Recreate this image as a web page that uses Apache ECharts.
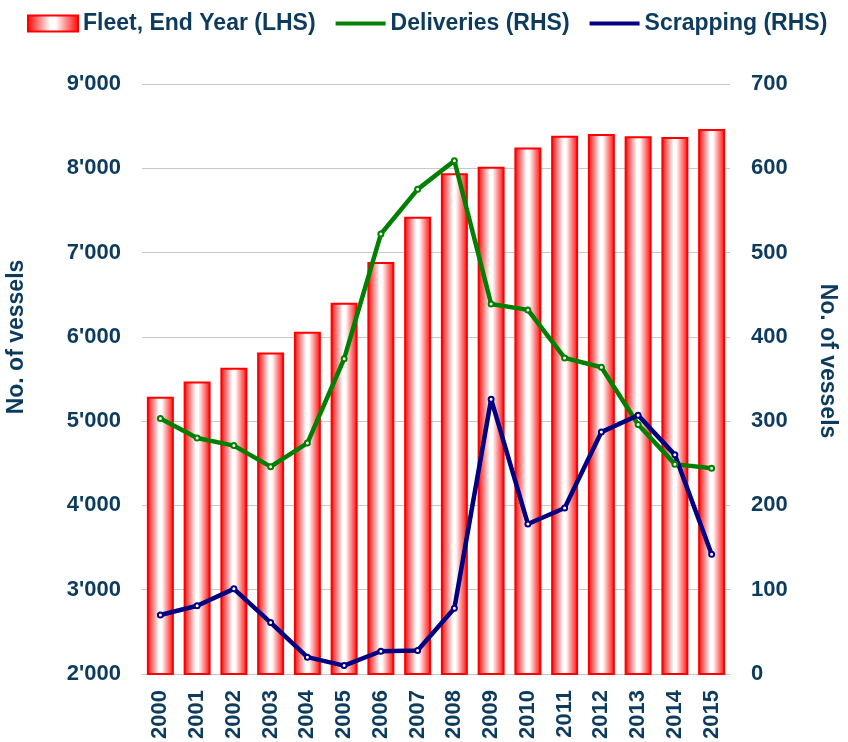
<!DOCTYPE html>
<html>
<head>
<meta charset="utf-8">
<script src="https://cdn.jsdelivr.net/npm/echarts@6/dist/echarts.min.js"></script>
<style>
  html, body { margin: 0; padding: 0; background: #fff; }
  #chart { width: 848px; height: 742px; }
</style>
</head>
<body>
<div id="chart"></div>
<script>
var years = ['2000','2001','2002','2003','2004','2005','2006','2007','2008','2009','2010','2011','2012','2013','2014','2015'];
var fleet = [5288, 5470, 5633, 5815, 6060, 6405, 6887, 7425, 7940, 8018, 8248, 8386, 8406, 8380, 8370, 8465];
var deliveries = [303, 280, 271, 246, 274, 374, 522, 575, 609, 439, 432, 375, 364, 296, 249, 244];
var scrapping = [70, 81, 101, 61, 20, 10, 27, 28, 78, 326, 178, 197, 287, 307, 260, 142];

var textColor = '#0d3b5e';
var font = 'Liberation Sans, Arial, sans-serif';

var chart = echarts.init(document.getElementById('chart'));

var barFill = new echarts.graphic.LinearGradient(0, 0, 1, 0, [
  {offset: 0, color: '#ff0000'},
  {offset: 0.45, color: '#ffffff'},
  {offset: 0.55, color: '#ffffff'},
  {offset: 1, color: '#ff0000'}
]);

// thick line legend marker, full 50x16 box so it is not stretched
var lineIcon = 'path://M0,0L0,0M50,16L50,16M0,6L50,6L50,10L0,10Z';

var option = {
  animation: false,
  textStyle: {fontFamily: font},
  legend: {
    left: 22,
    top: 7,
    itemGap: 20,
    itemWidth: 50,
    itemHeight: 16,
    textStyle: {fontSize: 23, fontWeight: 'bold', color: textColor, fontFamily: font},
    data: [
      {name: 'Fleet, End Year (LHS)', icon: 'rect'},
      {name: 'Deliveries (RHS)', icon: lineIcon, itemStyle: {color: '#008000', borderWidth: 0}},
      {name: 'Scrapping (RHS)', icon: lineIcon, itemStyle: {color: '#000080', borderWidth: 0}}
    ]
  },
  grid: {left: 142, right: 118, top: 84, bottom: 68},
  xAxis: {
    type: 'category',
    data: years,
    axisTick: {show: false},
    axisLine: {show: true, lineStyle: {color: '#c8c8c8', width: 1}},
    axisLabel: {rotate: 90, margin: 16, fontSize: 22, fontWeight: 'bold', color: textColor, fontFamily: font}
  },
  yAxis: [
    {
      type: 'value',
      min: 2000,
      max: 9000,
      interval: 1000,
      axisLine: {show: false},
      axisTick: {show: false},
      splitLine: {lineStyle: {color: '#c8c8c8', width: 1}},
      axisLabel: {
        margin: 21,
        fontSize: 22,
        fontWeight: 'bold',
        color: textColor,
        fontFamily: font,
        formatter: function (v) {
          return String(v).replace(/\B(?=(\d{3})+(?!\d))/g, "'");
        }
      }
    },
    {
      type: 'value',
      min: 0,
      max: 700,
      interval: 100,
      position: 'right',
      axisLine: {show: false},
      axisTick: {show: false},
      splitLine: {show: false},
      axisLabel: {margin: 21, fontSize: 22, fontWeight: 'bold', color: textColor, fontFamily: font}
    }
  ],
  graphic: [
    {
      type: 'text',
      x: 17,
      y: 337,
      rotation: Math.PI / 2,
      style: {text: 'No. of vessels', fontSize: 23, fontWeight: 'bold', fill: textColor, fontFamily: font, textAlign: 'center', textVerticalAlign: 'middle'}
    },
    {
      type: 'text',
      x: 827,
      y: 361,
      rotation: -Math.PI / 2,
      style: {text: 'No. of vessels', fontSize: 23, fontWeight: 'bold', fill: textColor, fontFamily: font, textAlign: 'center', textVerticalAlign: 'middle'}
    }
  ],
  series: [
    {
      name: 'Fleet, End Year (LHS)',
      type: 'bar',
      yAxisIndex: 0,
      barWidth: 27,
      data: fleet,
      itemStyle: {color: barFill, borderColor: '#ff0000', borderWidth: 2}
    },
    {
      name: 'Deliveries (RHS)',
      type: 'line',
      yAxisIndex: 1,
      data: deliveries,
      symbol: 'emptyCircle',
      symbolSize: 5,
      lineStyle: {color: '#008000', width: 4.5},
      itemStyle: {color: '#008000', borderWidth: 1.5}
    },
    {
      name: 'Scrapping (RHS)',
      type: 'line',
      yAxisIndex: 1,
      data: scrapping,
      symbol: 'emptyCircle',
      symbolSize: 5,
      lineStyle: {color: '#000080', width: 4.5},
      itemStyle: {color: '#000080', borderWidth: 1.5}
    }
  ]
};

chart.setOption(option);
</script>
</body>
</html>
